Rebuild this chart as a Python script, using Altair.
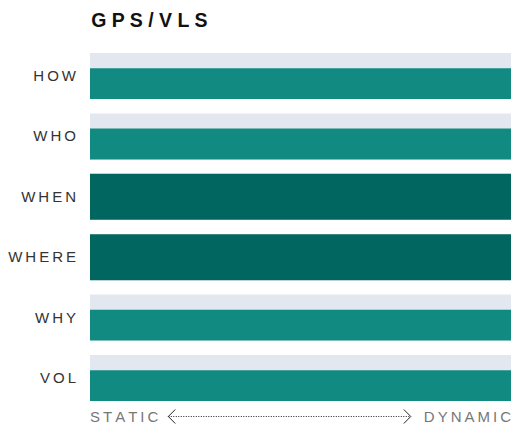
import altair as alt
import pandas as pd

categories = ["HOW", "WHO", "WHEN", "WHERE", "WHY", "VOL"]
bar_heights = [0.67, 0.67, 1.0, 1.0, 0.67, 0.67]
dynamism = [1.0, 1.0, 1.0, 1.0, 1.0, 1.0]
levels = ["light", "light", "dark", "dark", "light", "light"]

axis_labels = ["STATIC", "DYNAMIC"]
arrow_span = [0.186, 0.762]

THIN = "\u2009"
spaced = [THIN.join(c) for c in categories]

df = pd.DataFrame({
    "label": spaced,
    "h": bar_heights,
    "x": dynamism,
    "zero": [0.0] * len(categories),
    "full": [1.0] * len(categories),
    "mid": [0.5] * len(categories),
    "level": levels,
})

font = "Liberation Sans"
unit = alt.Scale(domain=[0, 1])
PW = 421

bg = alt.Chart().mark_rect(color="#E3E7EF").encode(
    x=alt.X("zero:Q", scale=unit, axis=None),
    x2="full:Q",
    y=alt.Y("zero:Q", scale=unit, axis=None),
    y2="full:Q",
)

fg = alt.Chart().mark_rect().encode(
    x=alt.X("zero:Q", scale=unit, axis=None),
    x2="x:Q",
    y=alt.Y("zero:Q", scale=unit, axis=None),
    y2="h:Q",
    color=alt.Color("level:N", scale=alt.Scale(domain=["light", "dark"], range=["#118B82", "#00665F"]), legend=None),
)

lab = alt.Chart().mark_text(align="right", baseline="middle", dx=-14, font=font, fontSize=15, color="#333333").encode(
    x=alt.X("zero:Q", scale=unit, axis=None),
    y=alt.Y("mid:Q", scale=unit, axis=None),
    text="label:N",
)

panel = alt.layer(bg, fg, lab).properties(width=PW, height=46)

rows = panel.facet(
    row=alt.Row("label:N", sort=spaced, header=alt.Header(title=None, labels=False)),
    data=df,
    spacing=14.4,
)

bdf = pd.DataFrame({
    "lo_label": [THIN.join(axis_labels[0])],
    "hi_label": [THIN.join(axis_labels[1])],
    "lo": [0.0],
    "hi": [1.0],
    "a0": [arrow_span[0]],
    "a1": [arrow_span[1]],
    "mid": [0.5],
})

t_lo = alt.Chart(bdf).mark_text(align="left", baseline="middle", font=font, fontSize=15, color="#777777").encode(
    x=alt.X("lo:Q", scale=unit, axis=None), y=alt.Y("mid:Q", scale=unit, axis=None), text="lo_label:N")
t_hi = alt.Chart(bdf).mark_text(align="right", baseline="middle", font=font, fontSize=15, color="#777777").encode(
    x=alt.X("hi:Q", scale=unit, axis=None), y=alt.Y("mid:Q", scale=unit, axis=None), text="hi_label:N")
line = alt.Chart(bdf).mark_rule(color="#222222", strokeWidth=1, strokeDash=[1, 1.5]).encode(
    x=alt.X("a0:Q", scale=unit, axis=None), x2="a1:Q", y=alt.Y("mid:Q", scale=unit, axis=None))
head_l = alt.Chart(bdf).mark_point(shape="M1,-1L0,0L1,1", filled=False, size=196, color="#222222", strokeWidth=1, opacity=1).encode(
    x=alt.X("a0:Q", scale=unit, axis=None), y=alt.Y("mid:Q", scale=unit, axis=None))
head_r = alt.Chart(bdf).mark_point(shape="M-1,-1L0,0L-1,1", filled=False, size=196, color="#222222", strokeWidth=1, opacity=1).encode(
    x=alt.X("a1:Q", scale=unit, axis=None), y=alt.Y("mid:Q", scale=unit, axis=None))

bottom = alt.layer(line, head_l, head_r, t_lo, t_hi).properties(width=PW, height=15)

chart = alt.vconcat(rows, bottom, spacing=6).properties(
    title=alt.Title(
        " ".join("GPS/VLS"),
        anchor="start",
        font=font,
        fontSize=19.5,
        fontWeight="bold",
        color="#111111",
        offset=22,
        dx=83,
    ),
    padding={"top": 2, "left": 0, "right": 0, "bottom": 0},
).configure_view(stroke=None)

chart.save("out.html", embed_options={"renderer": "svg", "actions": False})
